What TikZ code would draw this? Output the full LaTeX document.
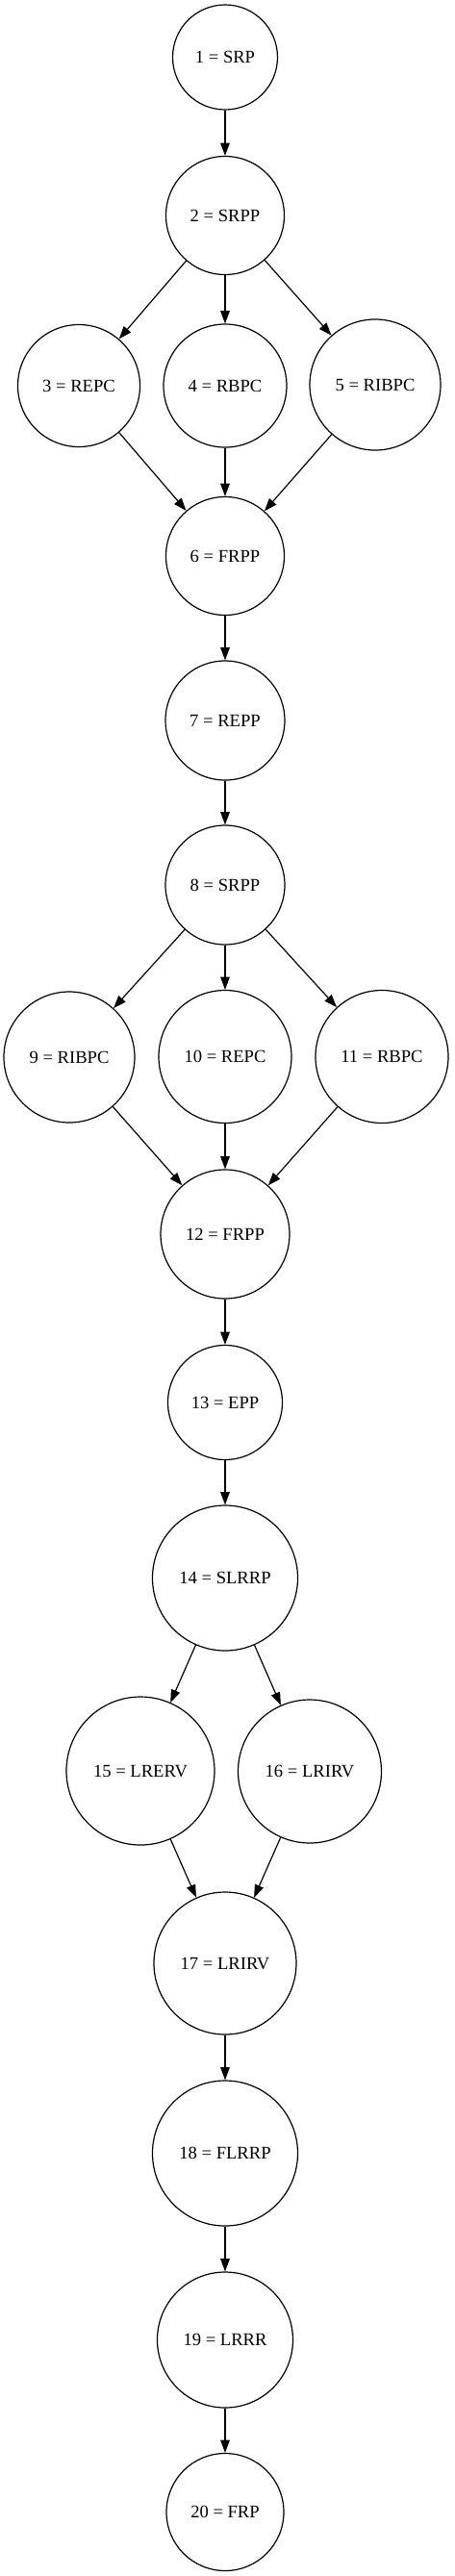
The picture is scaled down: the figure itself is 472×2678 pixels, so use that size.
\documentclass[tikz,border=0pt]{standalone}
\usepackage{fontspec}
\setmainfont{Liberation Serif}
\usetikzlibrary{arrows.meta}
\def\edgewidth{1.2pt}
\def\tiplength{13.3pt}
\def\tipwidth{9.6pt}
\def\labelsize{18.6}
\def\centrex{234pt}
\tikzset{
	% labels
	state_label/.style={
		font=\fontsize{\labelsize}{22}\selectfont,
		align=center,
	},
	% states
	state/.style={
		draw,
		circle,
		line width=\edgewidth,
		state_label,
		inner sep=0pt,
	},
	% transitions
	transition/.style={
		line width=\edgewidth,
		-{Triangle[length=\tiplength, width=\tipwidth]},
	}
}
\begin{document}
\begin{tikzpicture}
		\useasboundingbox (0,0) rectangle (472pt,-2678pt);

		% First block
		\node[state, minimum size=109pt] (p1) at (\centrex,-59.5pt) {1 = SRP};
		\node[state, minimum size=123pt] (p2) at (\centrex,-224pt) {2 = SRPP};
		\node[state, minimum size=127pt] (p3) at (82pt,-401pt) {3 = REPC};
		\node[state, minimum size=128pt] (p4) at (\centrex,-401pt) {4 = RBPC};
		\node[state, minimum size=136pt] (p5) at (390pt,-400pt) {5 = RIBPC};
		\node[state, minimum size=123pt] (p6) at (\centrex,-578pt) {6 = FRPP};
		\node[state, minimum size=124pt] (p7) at (\centrex,-749pt) {7 = REPP};

		% Second block
		\node[state, minimum size=124pt] (p8) at (\centrex,-920pt) {8 = SRPP};
		\node[state, minimum size=136pt] (p9) at (72pt,-1099pt) {9 = RIBPC};
		\node[state, minimum size=138pt] (p10) at (\centrex,-1098.5pt) {10 = REPC};
		\node[state, minimum size=138pt] (p11) at (397pt,-1098.5pt) {11 = RBPC};
		\node[state, minimum size=134pt] (p12) at (\centrex,-1283pt) {12 = FRPP};
		\node[state, minimum size=119pt] (p13) at (\centrex,-1458pt) {13 = EPP};

		% Third block
		\node[state, minimum size=151pt] (p14) at (\centrex,-1640.5pt) {14 = SLRRP};
		\node[state, minimum size=154pt] (p15) at (146pt,-1841pt) {15 = LRERV};
		\node[state, minimum size=149pt] (p16) at (322pt,-1841.5pt) {16 = LRIRV};
		\node[state, minimum size=148pt] (p17) at (\centrex,-2041pt) {17 = LRIRV};
		\node[state, minimum size=151pt] (p18) at (\centrex,-2238.5pt) {18 = FLRRP};
		\node[state, minimum size=141pt] (p19) at (\centrex,-2432.5pt) {19 = LRRR};
		\node[state, minimum size=122pt] (p20) at (\centrex,-2611.5pt) {20 = FRP};

		% Transitions
		\foreach \a/\b in {1/2, 2/3, 2/4, 2/5, 3/6, 4/6, 5/6, 6/7, 7/8,
				8/9, 8/10, 8/11, 9/12, 10/12, 11/12, 12/13, 13/14,
				14/15, 14/16, 15/17, 16/17, 17/18, 18/19, 19/20} {
			\draw[transition] (p\a) -- (p\b);
		}
	\end{tikzpicture}
\end{document}
